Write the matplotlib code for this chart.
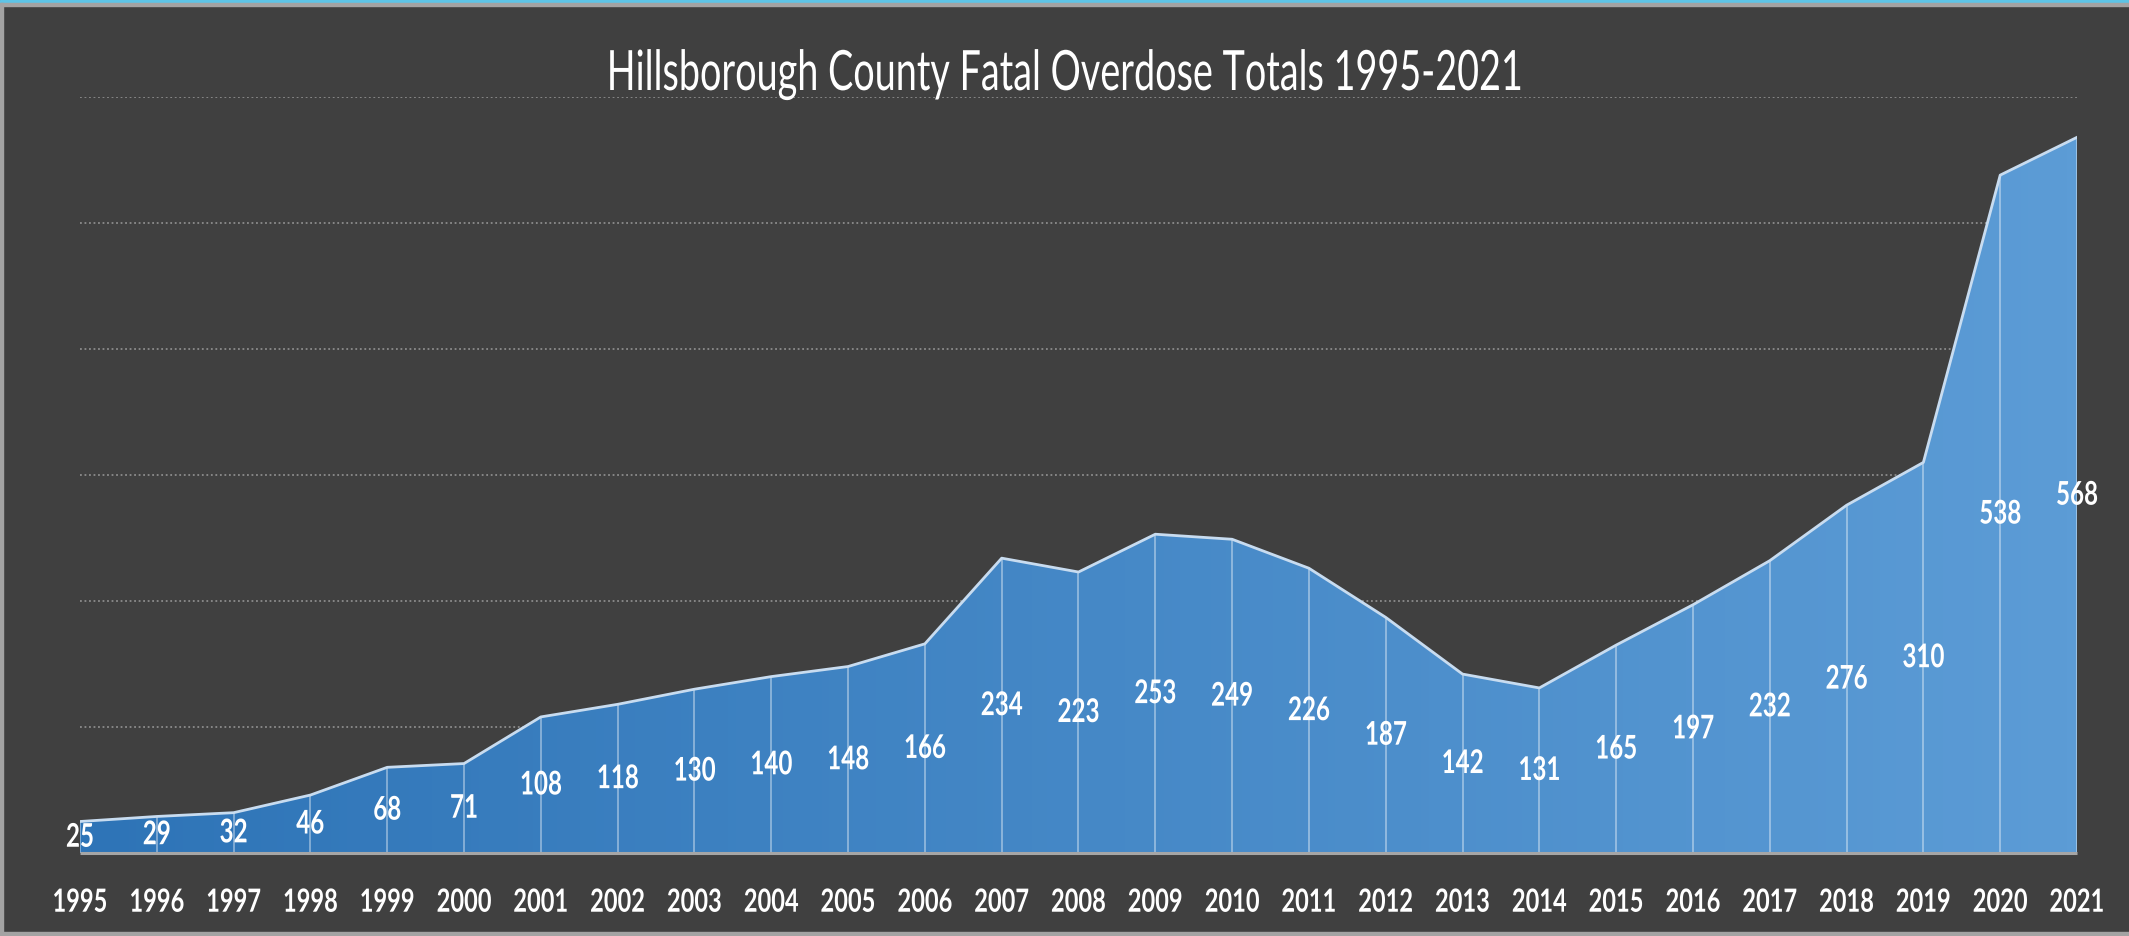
import numpy as np
import matplotlib
matplotlib.use("Agg")
import matplotlib.pyplot as plt
from matplotlib.colors import LinearSegmentedColormap
from matplotlib.patches import Rectangle
from matplotlib.patheffects import AbstractPathEffect
from matplotlib.transforms import Affine2D

# Annual fatal overdose totals, Hillsborough County
years = list(range(1995, 2022))
deaths = [25, 29, 32, 46, 68, 71, 108, 118, 130, 140, 148, 166, 234, 223,
          253, 249, 226, 187, 142, 131, 165, 197, 232, 276, 310, 538, 568]
year_labels = [str(y) for y in years]
title = "Hillsborough County Fatal Overdose Totals 1995-2021"


class Narrow(AbstractPathEffect):
    """Draw text glyphs squeezed horizontally about their own centre."""

    def __init__(self, sx):
        super().__init__()
        self.sx = sx

    def draw_path(self, renderer, gc, tpath, affine, rgbFace=None):
        ext = tpath.get_extents()
        cx = (ext.x0 + ext.x1) / 2
        squeeze = Affine2D().translate(-cx, 0).scale(self.sx, 1).translate(cx, 0)
        renderer.draw_path(gc, tpath, squeeze + affine, rgbFace)


FONT = ['Lato', 'DejaVu Sans']
BG = '#404040'
W, H = 2129, 936

fig = plt.figure(figsize=(W / 100, H / 100), dpi=100, facecolor=BG)
ax = fig.add_axes([80 / W, 83 / H, (2077 - 80) / W, (853 - 97) / H])
ax.set_facecolor(BG)

# dotted horizontal gridlines every 100
ax.set_yticks(range(0, 601, 100))
ax.yaxis.grid(True, color='#8c8c8c', linestyle=(0, (1, 1.5)), linewidth=1.3)
ax.set_axisbelow(True)
ax.tick_params(axis='y', left=False, labelleft=False)
for s in ax.spines.values():
    s.set_visible(False)

# area with a left-to-right blue gradient
area = ax.fill_between(years, deaths, 0, color='none', linewidth=0, zorder=2)
cmap = LinearSegmentedColormap.from_list('blues', ['#2e74b7', '#5c9cd6'])
grad = np.linspace(0, 1, 512).reshape(1, -1)
im = ax.imshow(grad, extent=[years[0], years[-1], 0, 600], aspect='auto',
               cmap=cmap, zorder=2, interpolation='bilinear')
im.set_clip_path(area.get_paths()[0], transform=ax.transData)

# drop lines at each year and the top edge
ax.vlines(years, 0, deaths, color='white', alpha=0.45, linewidth=1.2, zorder=3)
ax.plot(years, deaths, color='#c8dcf0', linewidth=2.0, zorder=4,
        solid_joinstyle='round')
ax.plot([years[0], years[-1]], [0, 0], color='#a6a6a6', linewidth=2.2,
        zorder=5, clip_on=False, solid_capstyle='butt')

# value labels at the middle of each column
label_fx = [Narrow(0.74)]
for x, v in zip(years, deaths):
    ax.text(x, v / 2, str(v), ha='center', va='center', color='white',
            fontsize=23.5, family=FONT, weight='bold', zorder=6,
            path_effects=label_fx)

ax.set_xlim(years[0], years[-1])
ax.set_ylim(0, 600)
ax.set_xticks(years)
ax.set_xticklabels(year_labels, color='white', fontsize=23, family=FONT,
                   weight='bold')
for lbl in ax.get_xticklabels():
    lbl.set_path_effects(label_fx)
ax.tick_params(axis='x', length=0, pad=25)

fig.text(0.5, 1 - 90 / H, title, ha='center', va='baseline', color='white',
         fontsize=40, family=FONT, weight='normal',
         path_effects=[Narrow(0.68)])

# frame edges
fig.patches.append(Rectangle((0, 1 - 3 / H), 1, 3 / H, transform=fig.transFigure,
                             color='#5ec4e6', zorder=10))
fig.patches.append(Rectangle((0, 1 - 6 / H), 1, 3 / H, transform=fig.transFigure,
                             color='#a3a3a3', zorder=10))
fig.patches.append(Rectangle((0, 0), 3 / W, 1 - 3 / H, transform=fig.transFigure,
                             color='#a3a3a3', zorder=10))
fig.patches.append(Rectangle((0, 0), 1, 4 / H, transform=fig.transFigure,
                             color='#a3a3a3', zorder=10))

fig.savefig('out.png', dpi=100, facecolor=BG)
